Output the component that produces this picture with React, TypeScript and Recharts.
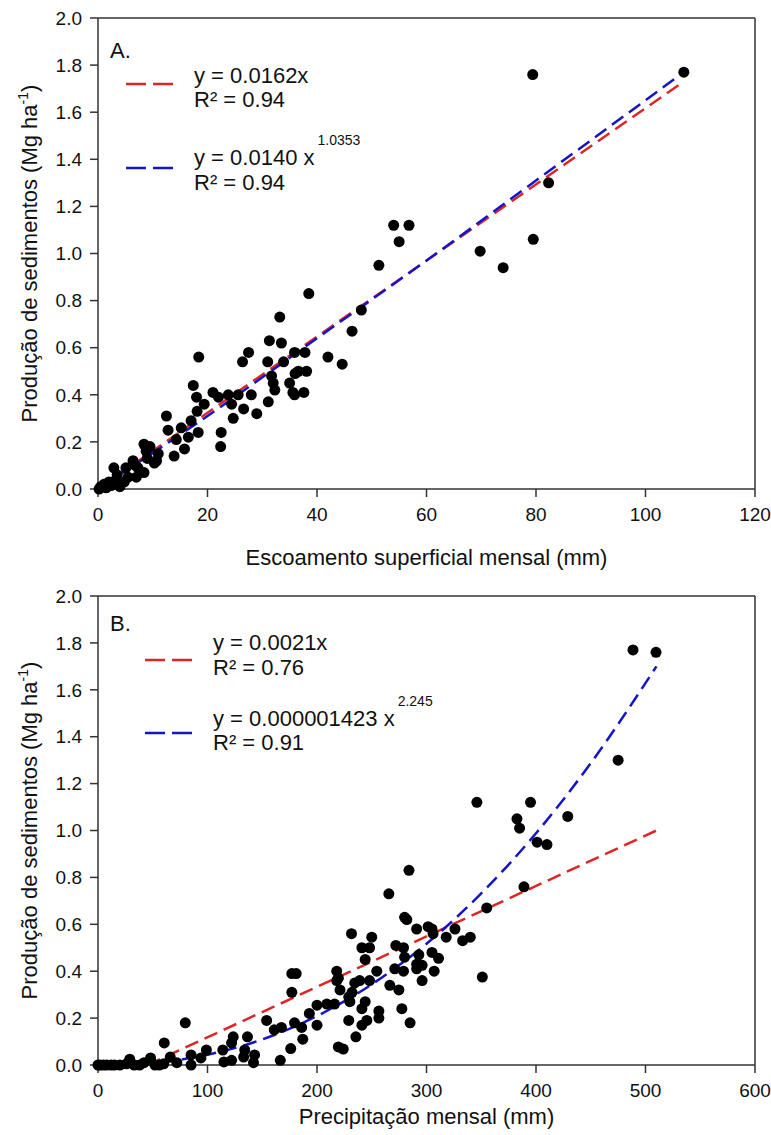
import React from 'react'
import { ComposedChart, Scatter, Line, XAxis, YAxis, ReferenceLine } from 'recharts'

// A. escoamento superficial mensal (mm) x produção de sedimentos (Mg ha-1)
const runoffPoints: [number, number][] = [
  [0.2, 0], [0.5, 0.01], [1.1, 0.02], [1.5, 0.005], [2, 0.03], [2.5, 0.015], [3.3, 0.04],
  [2.9, 0.09], [3.5, 0.06], [4, 0.01], [4.8, 0.03], [5.1, 0.09], [5.5, 0.05], [6.4, 0.12],
  [6.8, 0.1], [7, 0.05], [7.3, 0.09], [8.4, 0.07], [8.4, 0.19], [8.8, 0.16], [9, 0.13],
  [9.5, 0.18], [10.3, 0.11], [10.7, 0.12], [11, 0.15], [12.5, 0.31], [12.8, 0.25],
  [13.9, 0.14], [14.3, 0.21], [15.2, 0.26], [15.8, 0.17], [16.5, 0.22], [17, 0.29],
  [17.4, 0.44], [18, 0.39], [18.1, 0.33], [18.3, 0.24], [18.4, 0.56], [19.4, 0.36],
  [21, 0.41], [22, 0.39], [22.4, 0.18], [22.5, 0.24], [23.8, 0.4], [24.4, 0.36],
  [24.7, 0.3], [25.6, 0.4], [26.4, 0.54], [26.6, 0.34], [27.5, 0.58], [28, 0.4],
  [29, 0.32], [31, 0.54], [31.1, 0.37], [31.3, 0.63], [31.7, 0.48], [32, 0.45],
  [32.3, 0.42], [33.2, 0.73], [33.5, 0.62], [33.9, 0.54], [35, 0.45], [35.6, 0.41],
  [35.9, 0.58], [35.9, 0.4], [36, 0.49], [36.6, 0.5], [37.6, 0.41], [37.8, 0.58],
  [38.1, 0.5], [38.5, 0.83], [42, 0.56], [44.6, 0.53], [46.4, 0.67], [48.1, 0.76],
  [51.3, 0.95], [54, 1.12], [55, 1.05], [56.8, 1.12], [69.8, 1.01], [74, 0.94],
  [79.5, 1.06], [82.3, 1.3], [79.4, 1.76], [107, 1.77],
]
const runoffLinearFit: [number, number][] = [[0, 0], [107, 1.73]]
const runoffPowerFit: [number, number][] = [[0, 0], [20, 0.31], [40, 0.64], [60, 0.97], [80, 1.31], [107, 1.77]]

// B. precipitação mensal (mm) x produção de sedimentos
const rainPoints: [number, number][] = [
  [0, 0], [2, 0], [5, 0], [8, 0], [12, 0], [15, 0], [20, 0], [26, 0.005], [29, 0.025],
  [33, 0], [38, 0], [42, 0.01], [48, 0.03], [52, 0], [56, 0], [60, 0.005], [60.5, 0.094],
  [66, 0.034], [72, 0.01], [79.7, 0.18], [85, 0.043], [85, 0], [94, 0.03], [99, 0.064],
  [114, 0.064], [115, 0.013], [122, 0.02], [123.5, 0.12], [122, 0.094], [136.5, 0.12],
  [134, 0.064], [143, 0.043], [142, 0.01], [133, 0.034], [154, 0.19], [161, 0.15],
  [167.5, 0.16], [166.5, 0.02], [176, 0.07], [177, 0.31], [177, 0.39], [181, 0.39],
  [179.5, 0.18], [186, 0.16], [187, 0.11], [193, 0.22], [200, 0.255], [200, 0.17],
  [209, 0.26], [216, 0.26], [218, 0.4], [219.5, 0.37], [221, 0.32], [219.5, 0.077],
  [224, 0.068], [229, 0.29], [229, 0.19], [231.5, 0.56], [218, 0.36], [234.5, 0.35],
  [239, 0.36], [248, 0.36], [232, 0.31], [230, 0.27], [244, 0.27], [241, 0.24],
  [245.5, 0.19], [241, 0.17], [256.5, 0.23], [256.5, 0.2], [235.5, 0.12], [241, 0.5],
  [248, 0.5], [244, 0.45], [250, 0.545], [254.6, 0.4], [265.6, 0.73], [284, 0.83],
  [280, 0.63], [282, 0.62], [291, 0.58], [305, 0.58], [318, 0.545], [272, 0.51],
  [279, 0.5], [280, 0.46], [271, 0.41], [279, 0.4], [291, 0.41], [296, 0.425],
  [305, 0.48], [311, 0.455], [307, 0.4], [296, 0.36], [266.5, 0.34], [274.8, 0.32],
  [277.5, 0.24], [285, 0.18], [301.5, 0.59], [306, 0.56], [326, 0.58], [333, 0.53],
  [340, 0.545], [351, 0.375], [355, 0.67], [389, 0.76], [346, 1.12], [395, 1.12],
  [382.6, 1.05], [385, 1.01], [429, 1.06], [401, 0.95], [410, 0.94], [475, 1.3],
  [488.6, 1.77], [509.6, 1.76], [293, 0.47], [291, 0.43],
]
const rainLinearFit: [number, number][] = [[45, 0], [510, 1.0]]
const rainPowerFit: [number, number][] = [
  [0, 0], [50, 0.009], [100, 0.044], [150, 0.109], [200, 0.209], [250, 0.344],
  [300, 0.517], [350, 0.732], [400, 0.988], [450, 1.287], [510, 1.7],
]

const yTicks = [0, 0.2, 0.4, 0.6, 0.8, 1.0, 1.2, 1.4, 1.6, 1.8, 2.0]
const runoffTicks = [0, 20, 40, 60, 80, 100, 120]
const rainTicks = [0, 100, 200, 300, 400, 500, 600]

const FONT = "'Liberation Sans', Arial, sans-serif"
const RED = '#dc2626'
const BLUE = '#1414c8'
const AXIS = '#333'

const toXY = (arr: [number, number][]) => arr.map(([x, y]) => ({ x, y }))

const Dot = (p: any) => <circle cx={p.cx} cy={p.cy} r={5.5} fill="#000" />

function XTitle({ viewBox, text, dy }: any) {
  const { x, y, width } = viewBox
  return (
    <text x={x + width / 2} y={y + dy} textAnchor="middle" fontSize={22} fontFamily={FONT} fill="#111">
      {text}
    </text>
  )
}

function YTitle({ viewBox }: any) {
  const { y, height } = viewBox
  const cx = 37
  const cy = y + height / 2
  return (
    <text x={cx} y={cy} textAnchor="middle" fontSize={22} fontFamily={FONT} fill="#111" transform={`rotate(-90, ${cx}, ${cy})`}>
      Produção de sedimentos (Mg ha<tspan fontSize={14} dy={-9}>-1</tspan><tspan dy={9}>)</tspan>
    </text>
  )
}

interface PanelProps {
  points: [number, number][]
  linearFit: [number, number][]
  powerFit: [number, number][]
  xTicks: number[]
  xTitle: string
  xTitleDy: number
  height: number
  top: number
  letter: string
  eq1: string
  r1: string
  eq2: string
  sup: string
  r2: string
  legend: { letterY: number; eq1Y: number; r1Y: number; redY: number; eq2Y: number; r2Y: number; blueY: number; textX: number; sampleX: number }
}

function Panel(props: PanelProps) {
  const { points, linearFit, powerFit, xTicks, height, top, legend: L } = props
  const xMax = xTicks[xTicks.length - 1]
  const tickStyle = { fontSize: 19, fontFamily: FONT, fill: '#111' }
  const textProps = { fontSize: 22, fontFamily: FONT, fill: '#111' }
  return (
    <ComposedChart width={771} height={height} margin={{ top, right: 16, bottom: 0, left: 0 }}>
      <XAxis
        type="number"
        dataKey="x"
        domain={[0, xMax]}
        ticks={xTicks}
        height={height - top - 469 - (top > 15 ? 2 : 0)}
        tickSize={8}
        tickMargin={11}
        tick={tickStyle}
        stroke={AXIS}
        strokeWidth={1.5}
        label={<XTitle text={props.xTitle} dy={props.xTitleDy} />}
      />
      <YAxis
        type="number"
        dataKey="y"
        domain={[0, 2]}
        ticks={yTicks}
        width={98}
        tickSize={8}
        tickMargin={8}
        tick={tickStyle}
        tickFormatter={(v: number) => v.toFixed(1)}
        stroke={AXIS}
        strokeWidth={1.5}
        label={<YTitle />}
      />
      <ReferenceLine y={2} stroke={AXIS} strokeWidth={1.5} />
      <ReferenceLine x={xMax} stroke={AXIS} strokeWidth={1.5} />
      <Scatter data={toXY(points)} dataKey="y" shape={Dot} isAnimationActive={false} />
      <Line data={toXY(linearFit)} dataKey="y" type="linear" stroke={RED} strokeWidth={2.5} strokeDasharray="14 7" dot={false} activeDot={false} isAnimationActive={false} />
      <Line data={toXY(powerFit)} dataKey="y" type="monotone" stroke={BLUE} strokeWidth={2.5} strokeDasharray="14 7" dot={false} activeDot={false} isAnimationActive={false} />
      <g>
        <text x={110} y={L.letterY} {...textProps}>{props.letter}</text>
        <line x1={L.sampleX} x2={L.sampleX + 47} y1={L.redY} y2={L.redY} stroke={RED} strokeWidth={2.5} strokeDasharray="20 7" />
        <text x={L.textX} y={L.eq1Y} {...textProps}>{props.eq1}</text>
        <text x={L.textX} y={L.r1Y} {...textProps}>{props.r1}</text>
        <line x1={L.sampleX} x2={L.sampleX + 47} y1={L.blueY} y2={L.blueY} stroke={BLUE} strokeWidth={2.5} strokeDasharray="20 7" />
        <text x={L.textX} y={L.eq2Y} {...textProps}>
          {props.eq2}
          <tspan fontSize={14} dx={3} dy={-20}>{props.sup}</tspan>
        </text>
        <text x={L.textX} y={L.r2Y} {...textProps}>{props.r2}</text>
      </g>
    </ComposedChart>
  )
}

export default function App() {
  return (
    <div style={{ position: 'absolute', left: 0, top: 0, width: 771, height: 1135, background: '#fff' }}>
      <div style={{ position: 'absolute', left: 0, top: 0 }}>
        <Panel
          points={runoffPoints}
          linearFit={runoffLinearFit}
          powerFit={runoffPowerFit}
          xTicks={runoffTicks}
          xTitle="Escoamento superficial mensal (mm)"
          xTitleDy={76}
          height={585}
          top={18}
          letter="A."
          eq1="y = 0.0162x"
          r1="R² = 0.94"
          eq2="y = 0.0140 x"
          sup="1.0353"
          r2="R² = 0.94"
          legend={{ letterY: 58, eq1Y: 83, r1Y: 107, redY: 84, eq2Y: 165, r2Y: 190, blueY: 168, textX: 194, sampleX: 126 }}
        />
      </div>
      <div style={{ position: 'absolute', left: 0, top: 585 }}>
        <Panel
          points={rainPoints}
          linearFit={rainLinearFit}
          powerFit={rainPowerFit}
          xTicks={rainTicks}
          xTitle="Precipitação mensal (mm)"
          xTitleDy={59}
          height={550}
          top={11}
          letter="B."
          eq1="y = 0.0021x"
          r1="R² = 0.76"
          eq2="y = 0.000001423 x"
          sup="2.245"
          r2="R² = 0.91"
          legend={{ letterY: 46, eq1Y: 65, r1Y: 90, redY: 75, eq2Y: 141, r2Y: 165, blueY: 148, textX: 213, sampleX: 145 }}
        />
      </div>
    </div>
  )
}
